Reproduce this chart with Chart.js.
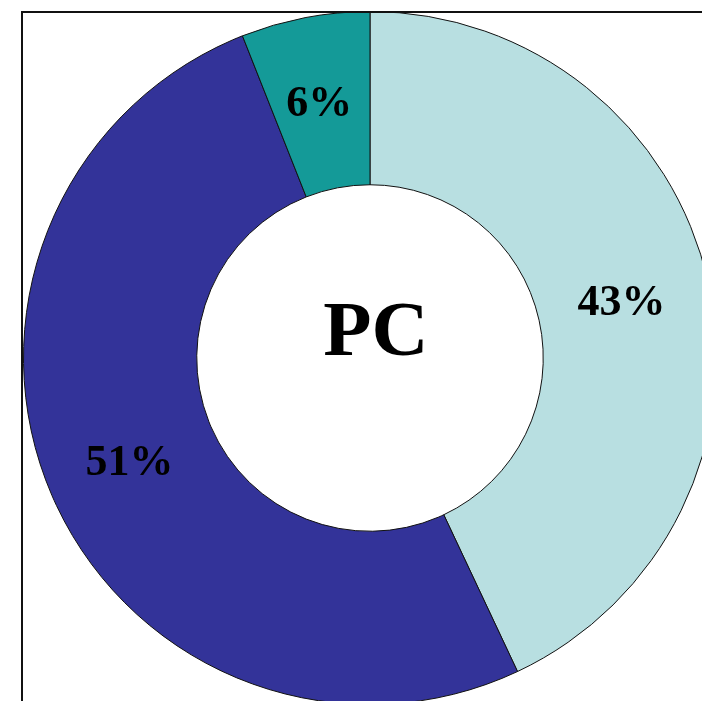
<!DOCTYPE html>
<html>
<head>
<meta charset="utf-8">
<script src="https://cdn.jsdelivr.net/npm/chart.js@4/dist/chart.umd.min.js"></script>
<style>
  html, body { margin: 0; padding: 0; background: #fff; }
  body { width: 702px; height: 701px; overflow: hidden; position: relative; }
  #pc { position: absolute; left: 0; top: 0; }
</style>
</head>
<body>
<canvas id="pc" width="717" height="705"></canvas>
<script>
const labels = ['Series A', 'Series B', 'Series C'];
const shares = [43, 51, 6];
const sliceColors = ['#b8dfe1', '#333399', '#149a98'];
const centerText = 'PC';

// percent text on each slice, placed at the arc's own centre point
const sliceLabels = {
  id: 'sliceLabels',
  afterDatasetsDraw(chart) {
    const ctx = chart.ctx;
    const meta = chart.getDatasetMeta(0);
    ctx.save();
    ctx.font = 'bold 44px "Liberation Serif", "Times New Roman", serif';
    ctx.fillStyle = '#000';
    ctx.textAlign = 'center';
    ctx.textBaseline = 'middle';
    meta.data.forEach((arc, i) => {
      const p = arc.tooltipPosition();
      ctx.fillText(shares[i] + '%', p.x - 2, p.y + 2);
    });
    // centre title
    const c = meta.data[0];
    ctx.font = 'bold 79px "Liberation Serif", "Times New Roman", serif';
    ctx.fillText(centerText, c.x + 6, c.y - 23);
    ctx.restore();
  }
};

// the frame line along the top and left
const frame = {
  id: 'frame',
  afterDraw(chart) {
    const ctx = chart.ctx;
    ctx.save();
    ctx.strokeStyle = '#111';
    ctx.lineWidth = 2;
    ctx.beginPath();
    ctx.moveTo(22, 705);
    ctx.lineTo(22, 12);
    ctx.lineTo(717, 12);
    ctx.stroke();
    ctx.restore();
  }
};

new Chart(document.getElementById('pc'), {
  type: 'doughnut',
  data: {
    labels: labels,
    datasets: [{
      data: shares,
      backgroundColor: sliceColors,
      borderColor: '#111',
      borderWidth: 1
    }]
  },
  options: {
    responsive: false,
    animation: false,
    cutout: '50%',
    layout: { padding: { left: 23, top: 11, right: 0, bottom: 0 } },
    plugins: {
      legend: { display: false },
      tooltip: { enabled: false }
    }
  },
  plugins: [sliceLabels, frame]
});
</script>
</body>
</html>
